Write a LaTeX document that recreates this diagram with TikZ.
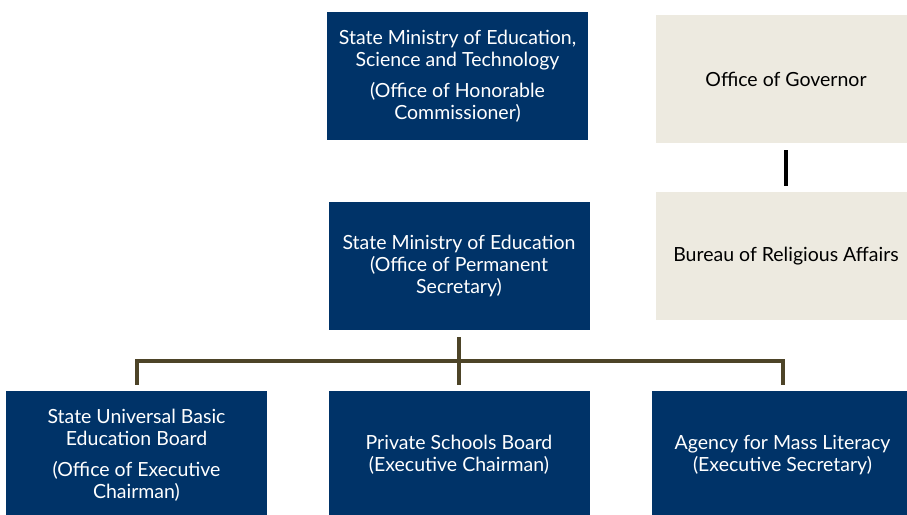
\documentclass[tikz,border=0pt]{standalone}
\usepackage{fontspec}
\setmainfont{Lato}
\usepackage{xcolor}
\usetikzlibrary{calc}
\definecolor{navy}{RGB}{0,51,104}
\definecolor{paper}{RGB}{237,234,224}
\definecolor{olive}{RGB}{77,68,40}
\begin{document}
\begin{tikzpicture}[x=1pt, y=-1pt,
        box/.style = {minimum width=261pt, minimum height=128pt, inner sep=0pt, align=center,
                      font=\fontsize{19.5}{22}\selectfont},
        office/.style = {box, fill=navy, text=white},
        plain/.style = {box, fill=paper, text=black},
        link/.style = {draw=olive, line width=4pt}]
        \clip (0,0) rectangle (907,514);
        \fill[white] (0,0) rectangle (907,514);
        \node[office] at (457.5, 76) (smest) {State Ministry of Education,\\ Science and Technology\\[9pt] (Office of Honorable\\ Commissioner)};
        \node[plain] at (786, 79) (gov) {Office of Governor};
        \node[plain] at (786, 256) (bra) {Bureau of Religious Affairs};
        \node[office] at (459, 266) (sme) {State Ministry of Education\\ (Office of Permanent\\ Secretary)};
        \node[office] at (136.5, 455) (subeb) {State Universal Basic\\ Education Board\\[9pt] (Office of Executive\\ Chairman)};
        \node[office] at (459, 455) (psb) {Private Schools Board\\ (Executive Chairman)};
        \node[office] at (782.5, 455) (aml) {Agency for Mass Literacy\\ (Executive Secretary)};
        \coordinate (bar) at (0, 361);
        \draw[line width=4pt, shorten <=7pt, shorten >=6pt] (gov) -- (bra);
        \draw[link, shorten <=7pt, shorten >=6pt] (sme) -- (psb);
        \draw[link, shorten <=6pt, shorten >=6pt] (subeb.north) -- (subeb.north |- bar) -- (aml.north |- bar) -- (aml.north);
\end{tikzpicture}
\end{document}
